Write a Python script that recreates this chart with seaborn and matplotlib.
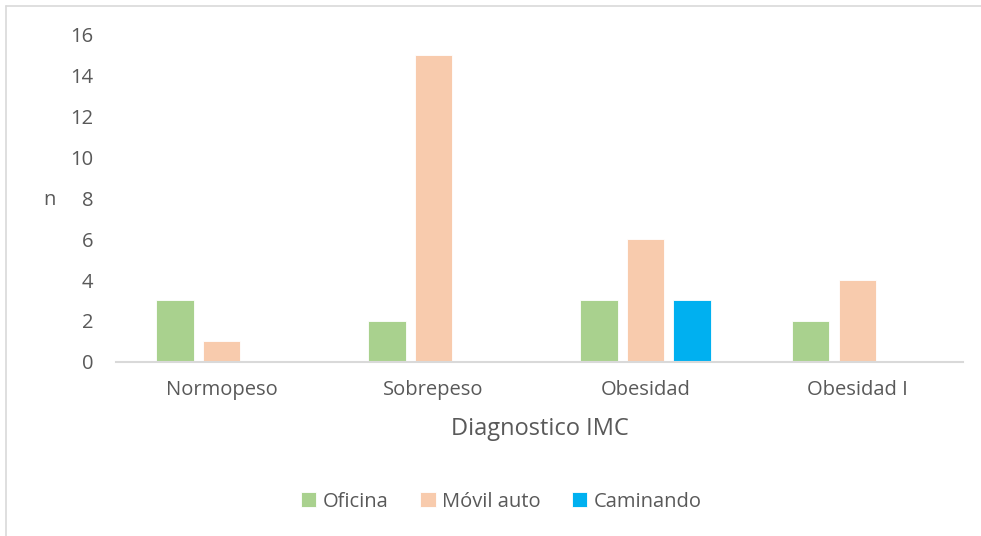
import pandas as pd
import matplotlib.pyplot as plt
import seaborn as sns
from matplotlib.lines import Line2D

# Données
categorias = ['Normopeso', 'Sobrepeso', 'Obesidad', 'Obesidad I']
oficina = [3, 2, 3, 2]
movil_auto = [1, 15, 6, 4]
caminando = [0, 0, 3, 0]
series = ['Oficina', 'Móvil auto', 'Caminando']
colores = ['#A9D18E', '#F8CBAD', '#00B0F0']

df = pd.DataFrame({
    'diagnostico': categorias * 3,
    'n': oficina + movil_auto + caminando,
    'grupo': [s for s in series for _ in categorias],
})

sns.set_style('white')
plt.rcParams['font.family'] = ['Open Sans', 'DejaVu Sans']
gris = '#595959'

fig = plt.figure(figsize=(9.81, 5.36), dpi=100)
ax = fig.add_axes([0.118, 0.325, 0.864, 0.61])

sns.barplot(data=df, x='diagnostico', y='n', hue='grupo', hue_order=series,
            palette=colores, saturation=1, width=0.66, gap=0.2,
            edgecolor='white', linewidth=0.6, ax=ax)

ax.set_ylim(0, 16)
ax.set_xlim(-0.5, 3.5)
ax.set_yticks(range(0, 17, 2))
ax.tick_params(axis='both', length=0, labelsize=14.5, colors=gris)
ax.tick_params(axis='y', pad=16)
ax.tick_params(axis='x', pad=13)
for lado in ['top', 'right', 'left']:
    ax.spines[lado].set_visible(False)
ax.spines['bottom'].set_color('#D9D9D9')
ax.spines['bottom'].set_linewidth(1.5)

ax.set_xlabel('Diagnostico IMC', fontsize=17, color=gris, labelpad=12)
ax.set_ylabel('n', fontsize=14.5, color=gris, rotation=0, va='center')
ax.yaxis.set_label_coords(-0.078, 0.495)

ax.legend(handles=ax.get_legend_handles_labels()[0], labels=series,
          loc='center', bbox_to_anchor=(0.455, -0.428), ncol=3, frameon=False,
          fontsize=14.5, labelcolor=gris, handlelength=0.75, handleheight=0.75,
          handletextpad=0.3, columnspacing=1.6)

# Bordure du graphique
fig.add_artist(Line2D([6 / 981, 6 / 981], [0, 1 - 6 / 536], color='#D9D9D9', lw=1.2))
fig.add_artist(Line2D([6 / 981, 1], [1 - 6 / 536, 1 - 6 / 536], color='#D9D9D9', lw=1.2))

fig.savefig('out.png', dpi=100)
